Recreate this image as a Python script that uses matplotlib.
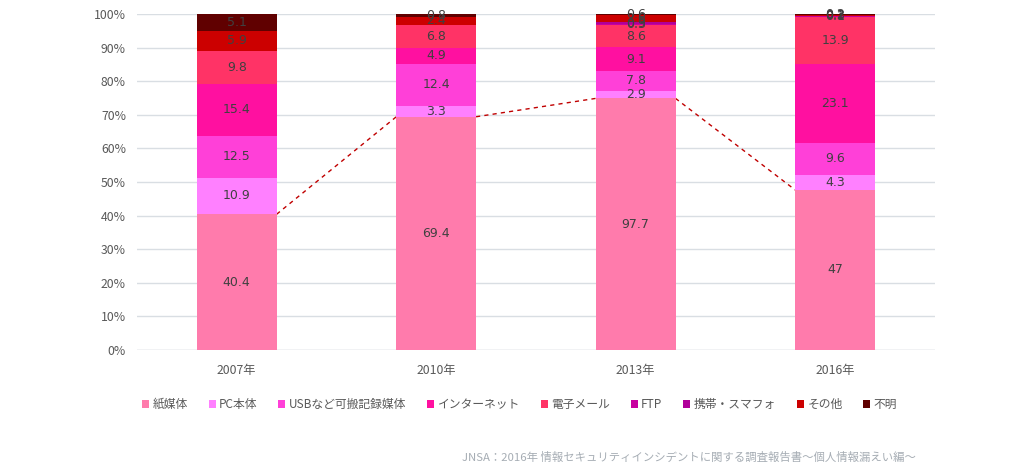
import numpy as np
import matplotlib
matplotlib.use("Agg")
import matplotlib.pyplot as plt
from matplotlib.patches import Patch

plt.rcParams['font.family'] = ['Noto Sans CJK JP', 'DejaVu Sans']

years = ["2007年", "2010年", "2013年", "2016年"]
series_names = ["紙媒体", "PC本体", "USBなど可搬記録媒体", "インターネット", "電子メール",
                "FTP", "携帯・スマフォ", "その他", "不明"]

# raw values per series (2007, 2010, 2013, 2016)
paper    = [40.4, 69.4, 97.7, 47]
pc       = [10.9, 3.3, 2.9, 4.3]
usb      = [12.5, 12.4, 7.8, 9.6]
internet = [15.4, 4.9, 9.1, 23.1]
email    = [9.8, 6.8, 8.6, 13.9]
ftp      = [0, 0, 0.3, 0.1]
mobile   = [0, 0, 0.9, 0.2]
other    = [5.9, 2.4, 2.6, 0.3]
unknown  = [5.1, 0.8, 0.6, 0.2]

colors = ["#FF7BAC", "#FF80FF", "#FF40D8", "#FF10A0", "#FF3366",
          "#C800A0", "#B0009A", "#CC0000", "#600000"]

source = "JNSA：2016年 情報セキュリティインシデントに関する調査報告書～個人情報漏えい編～"


def main():
  data = np.array([paper, pc, usb, internet, email, ftp, mobile, other, unknown], dtype=float)
  totals = data.sum(axis=0)
  pct = data / totals * 100

  fig = plt.figure(figsize=(10.15, 4.74), dpi=100, facecolor='w')
  ax = fig.add_axes([0.135, 0.2616, 0.786, 0.709])
  x = np.arange(len(years))
  width = 0.4

  ax.grid(axis='y', color='#D9DEE3', linewidth=1)
  ax.set_axisbelow(True)

  bottom = np.zeros(len(years))
  for i in range(len(series_names)):
    ax.bar(x, pct[i], width, bottom=bottom, color=colors[i], label=series_names[i], zorder=2)
    for j in range(len(years)):
      if data[i][j] > 0:
        ax.text(x[j], bottom[j] + pct[i][j] / 2, '{:g}'.format(data[i][j]),
                ha='center', va='center', fontsize=9, color='#404040', zorder=3,
                family=['DejaVu Sans'])
    bottom += pct[i]

  # series line for the first segment
  for j in range(len(years) - 1):
    ax.plot([x[j] + width / 2, x[j + 1] - width / 2], [pct[0][j], pct[0][j + 1]],
            color='#C00000', linestyle=(0, (3, 3)), linewidth=1, zorder=1)

  ax.set_xlim(-0.5, 3.5)
  ax.set_ylim(0, 100)
  ax.set_yticks(np.arange(0, 101, 10))
  ax.set_yticklabels(['{}%'.format(v) for v in range(0, 101, 10)], fontsize=8.8, color='#595959')
  ax.set_xticks(x)
  ax.set_xticklabels(years, fontsize=8.8, color='#595959')
  ax.tick_params(length=0, pad=8)
  ax.tick_params(axis='x', pad=10)
  for s in ax.spines.values():
    s.set_visible(False)
  ax.axhline(0, color='#D9DEE3', linewidth=1, zorder=1)

  handles = [Patch(facecolor=c, edgecolor='none') for c in colors]
  fig.legend(handles, series_names, loc='center', bbox_to_anchor=(0.512, 0.146), ncol=9,
             frameon=False, fontsize=8.5, handlelength=0.6, handleheight=0.6,
             handletextpad=0.3, columnspacing=1.75, labelcolor='#595959')

  fig.text(0.902, 0.036, source, ha='right', va='center', fontsize=8.2, color='#A6ADB4')

  fig.savefig('out.png', dpi=100)
  plt.close()


if __name__ == "__main__":
  main()
